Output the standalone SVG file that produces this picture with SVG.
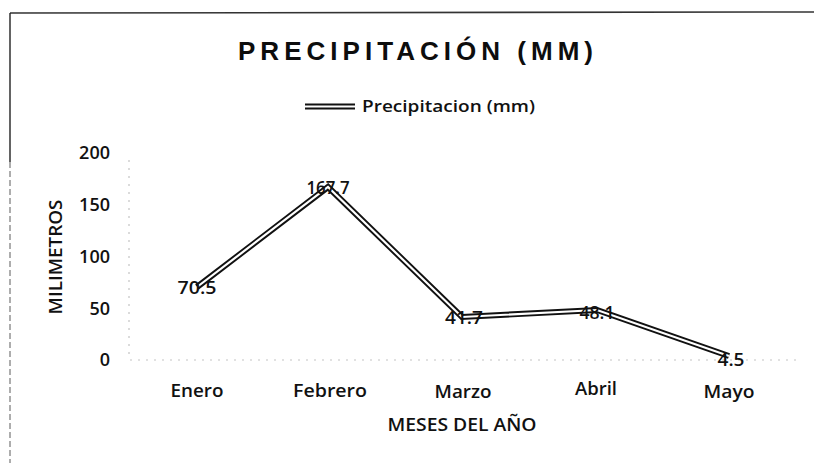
<svg xmlns="http://www.w3.org/2000/svg" width="814" height="463" viewBox="0 0 814 463">
<style>
.lbl{font-family:"Open Sans","Liberation Sans",sans-serif;font-weight:600;fill:#111;}
.title{font-family:"Liberation Sans",Arial,sans-serif;font-weight:bold;fill:#0d0d0d;}
.outer{fill:none;stroke:#111;stroke-width:6;stroke-linejoin:miter;stroke-linecap:butt;}
.inner{fill:none;stroke:#ffffff;stroke-width:2.2;stroke-linejoin:miter;}
.grid{stroke:#c4c4c4;stroke-width:1.2;stroke-dasharray:2 6;fill:none;}
</style>
<rect x="0" y="0" width="814" height="463" fill="#ffffff"/>
<g id="frame">
<line x1="10" y1="13" x2="814" y2="12" stroke="#333" stroke-width="1.6"/>
<line x1="10" y1="13" x2="10" y2="162" stroke="#222" stroke-width="1.4"/>
<line x1="10" y1="162" x2="10" y2="463" stroke="#777" stroke-width="1.2" stroke-dasharray="6 3"/>
</g>
<g id="title">
<text class="title" x="415.5" y="60" font-size="26" text-anchor="middle" textLength="355" lengthAdjust="spacing">PRECIPITACIÓN (MM)</text>
</g>
<g id="legend">
<line x1="305" y1="106.5" x2="355" y2="106.5" stroke="#111" stroke-width="6"/>
<line x1="305" y1="106.5" x2="355" y2="106.5" stroke="#fff" stroke-width="2"/>
<text class="lbl" x="362" y="112" font-size="17" font-weight="500" textLength="173" lengthAdjust="spacingAndGlyphs">Precipitacion (mm)</text>
</g>
<g id="axes">
<line class="grid" x1="130" y1="360" x2="800" y2="360"/>
<line class="grid" x1="129" y1="160" x2="129" y2="360"/>
<g id="y-labels" class="lbl" font-size="18" text-anchor="end">
<text x="110" y="159">200</text>
<text x="110" y="211">150</text>
<text x="110" y="263">100</text>
<text x="110" y="315">50</text>
<text x="110" y="366">0</text>
</g>
<text class="lbl" font-size="18" font-weight="500" text-anchor="middle" transform="translate(62,257) rotate(-90)" textLength="115" lengthAdjust="spacingAndGlyphs">MILIMETROS</text>
<g id="x-labels" class="lbl" font-size="18" text-anchor="middle">
<text x="197" y="397" textLength="53" lengthAdjust="spacingAndGlyphs">Enero</text>
<text x="330" y="397" textLength="74" lengthAdjust="spacingAndGlyphs">Febrero</text>
<text x="463" y="398" textLength="57" lengthAdjust="spacingAndGlyphs">Marzo</text>
<text x="596" y="395" textLength="42" lengthAdjust="spacingAndGlyphs">Abril</text>
<text x="729" y="398" textLength="51" lengthAdjust="spacingAndGlyphs">Mayo</text>
</g>
<text class="lbl" x="462" y="431" font-size="18" text-anchor="middle" font-weight="500" textLength="149" lengthAdjust="spacingAndGlyphs">MESES DEL AÑO</text>
</g>
<g id="connectors">
<polyline class="outer" points="197,287 328,187 462,317 597,310 729,356"/>
<polyline class="inner" points="197,287 328,187 462,317 597,310 729,356"/>
</g>
<g id="data-labels" class="lbl" font-size="18" text-anchor="middle" font-weight="500">
<text x="197" y="294" textLength="39" lengthAdjust="spacingAndGlyphs">70.5</text>
<text x="328" y="194" textLength="43" lengthAdjust="spacingAndGlyphs">167.7</text>
<text x="464" y="324" textLength="38" lengthAdjust="spacingAndGlyphs">41.7</text>
<text x="597" y="319" textLength="35" lengthAdjust="spacingAndGlyphs">48.1</text>
<text x="731" y="366" textLength="27" lengthAdjust="spacingAndGlyphs">4.5</text>
</g>
</svg>
